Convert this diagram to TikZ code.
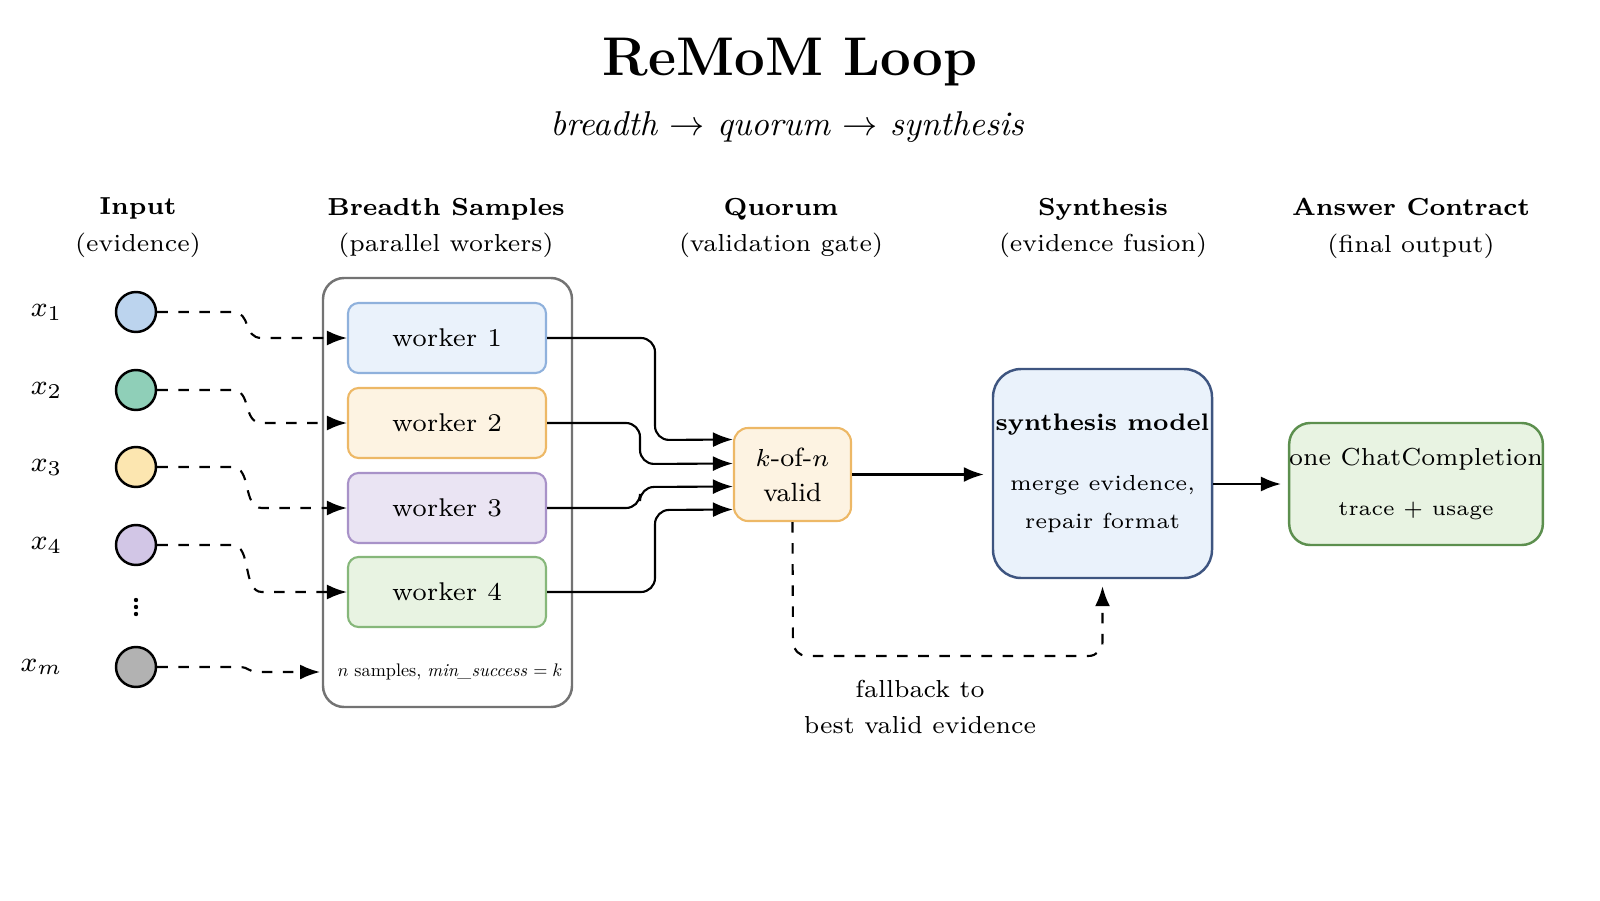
\documentclass[tikz,border=0pt]{standalone}
\usepackage{tikz}
\usetikzlibrary{arrows.meta,positioning,calc}
\usepackage{xcolor}
\definecolor{wblue}{HTML}{EAF2FB}
\definecolor{wblueD}{HTML}{8FB1DC}
\definecolor{worange}{HTML}{FDF3E2}
\definecolor{worangeD}{HTML}{EDB866}
\definecolor{wviolet}{HTML}{EAE4F3}
\definecolor{wvioletD}{HTML}{A892C8}
\definecolor{wgreen}{HTML}{E8F3E2}
\definecolor{wgreenD}{HTML}{86B77A}
\definecolor{synthD}{HTML}{3E5580}
\definecolor{ansD}{HTML}{5C8F4E}
\definecolor{inBlue}{HTML}{BCD4EE}
\definecolor{inTeal}{HTML}{8FCFB8}
\definecolor{inYellow}{HTML}{FCE6B0}
\definecolor{inViolet}{HTML}{D2C6E6}

\begin{document}
\begin{tikzpicture}[x=1cm,y=1cm]
    \tikzstyle{worker} = [rectangle, rounded corners=3pt, draw, line width=0.6pt,
      minimum width=1.98cm, minimum height=0.7cm, align=center, font=\fontsize{7.3}{9}\selectfont]
    \tikzstyle{inp} = [circle, draw, line width=0.7pt, minimum size=0.4cm, inner sep=0pt]
    \tikzstyle{head} = [align=center, font=\fontsize{7}{9.5}\selectfont]
    \tikzstyle{line} = [draw, line width=0.6pt, -{Latex[length=2mm]}]
    \tikzstyle{dline} = [draw, line width=0.6pt, dashed, -{Latex[length=2mm]}]

    \useasboundingbox (0,0) rectangle (16,9);

    % Title
    \node (title) at (7.9,8.38) {\fontsize{15.5}{18}\selectfont\bfseries ReMoM Loop};
    \node (sub) at (7.87,7.73) {\fontsize{9.8}{12}\selectfont\itshape breadth $\rightarrow$ quorum $\rightarrow$ synthesis};

    % Column headers
    \node[head] (h1) at (1.38,6.72) {\textbf{Input}\\[1pt](evidence)};
    \node[head] (h2) at (4.46,6.72) {\textbf{Breadth Samples}\\[1pt](parallel workers)};
    \node[head] (h3) at (7.81,6.72) {\textbf{Quorum}\\[1pt](validation gate)};
    \node[head] (h4) at (11.03,6.72) {\textbf{Synthesis}\\[1pt](evidence fusion)};
    \node[head] (h5) at (14.11,6.72) {\textbf{Answer Contract}\\[1pt](final output)};

    % Container
    \node[draw=black!55, rounded corners=6pt, line width=0.7pt, minimum width=2.49cm,
      minimum height=4.29cm] (box) at (4.475,4.075) {};
    \node[inner sep=0pt] (note) at (4.5,2.28)
      {\resizebox{2.25cm}{!}{$n$ samples, \emph{min\_success} $= k$}};

    % Workers
    \node[worker, draw=wblueD, fill=wblue] (w1) at (4.47,5.62) {worker 1};
    \node[worker, draw=worangeD, fill=worange] (w2) at (4.47,4.77) {worker 2};
    \node[worker, draw=wvioletD, fill=wviolet] (w3) at (4.47,3.92) {worker 3};
    \node[worker, draw=wgreenD, fill=wgreen] (w4) at (4.47,3.08) {worker 4};

    % Inputs
    \node[inp, fill=inBlue] (x1) at (1.36,5.88) {};
    \node[inp, fill=inTeal] (x2) at (1.36,5.10) {};
    \node[inp, fill=inYellow] (x3) at (1.36,4.33) {};
    \node[inp, fill=inViolet] (x4) at (1.36,3.55) {};
    \node[inp, fill=black!30] (xm) at (1.36,2.33) {};
    \foreach \k in {0,1,2}
      \fill (1.36,2.86+\k*0.07) circle (0.022);
    \foreach \i/\n in {x1/1,x2/2,x3/3,x4/4,xm/m}
      \node[left=0.4cm of \i, font=\fontsize{8.5}{10}\selectfont] {$x_{\n}$};

    % Inputs to workers
    \foreach \i/\w in {x1/w1,x2/w2,x3/w3,x4/w4}
      \draw[dline] (\i.east) -- ++(0.75,0) .. controls ++(0.2,0) and ++(-0.2,0) .. ($(\w.west)+(-0.85,0)$) -- (\w.west);
    \coordinate (xmend) at (3.2,2.28);
    \draw[dline] (xm.east) -- ++(0.8,0) .. controls ++(0.15,0) and ++(-0.15,0) .. ($(xmend)+(-0.6,0)$) -- (xmend);

    % Quorum
    \node[rectangle, rounded corners=4pt, draw=worangeD, fill=worange, line width=0.6pt,
      minimum width=1.17cm, minimum height=0.93cm, align=center, font=\fontsize{7.5}{10}\selectfont]
      (quorum) at (7.925,4.255) {$k$-of-$n$\\valid};

    % Workers to quorum
    \draw[line, rounded corners=4pt] (w1.east) -| (6.55,4.6) -- ([yshift=0.35cm]quorum.west);
    \draw[line, rounded corners=4pt] (w2.east) -| (6.4,4.36) -- ([yshift=0.11cm]quorum.west);
    \draw[line, rounded corners=4pt] (w3.east) -| (6.4,4.13) -- ([yshift=-0.12cm]quorum.west);
    \draw[line, rounded corners=4pt] (w4.east) -| (6.55,3.9) -- ([yshift=-0.35cm]quorum.west);

    % Synthesis
    \node[rectangle, rounded corners=8pt, draw=synthD, fill=wblue, line width=0.7pt, inner sep=0pt,
      minimum width=2.19cm, minimum height=2.09cm, align=center]
      (synth) at (11.025,4.265) {{\fontsize{6.8}{9}\selectfont\bfseries synthesis model}\\[5pt]
      {\fontsize{6.2}{10}\selectfont merge evidence,}\\[-1pt]{\fontsize{6.2}{10}\selectfont repair format}};

    % Answer
    \node[rectangle, rounded corners=6pt, draw=ansD, fill=wgreen, line width=0.7pt, inner sep=0pt,
      minimum width=2.28cm, minimum height=1.22cm, align=center]
      (answer) at (14.16,4.16) {{\fontsize{7}{10}\selectfont one ChatCompletion}\\[2pt]{\fontsize{6}{8}\selectfont trace + usage}};

    \draw[line] (quorum.east) -- ([xshift=-0.08cm]synth.west |- quorum.east);
    \draw[line] (synth.east |- answer.west) -- ([xshift=-0.07cm]answer.west);

    % Fallback
    \draw[dline, rounded corners=4pt] (quorum.south) -- (7.93,2.44) -| ([yshift=-0.07cm]synth.south);
    \node[align=center, font=\fontsize{7}{10}\selectfont] (fb) at (9.2,1.93) {fallback to\\best valid evidence};
\end{tikzpicture}
\end{document}
